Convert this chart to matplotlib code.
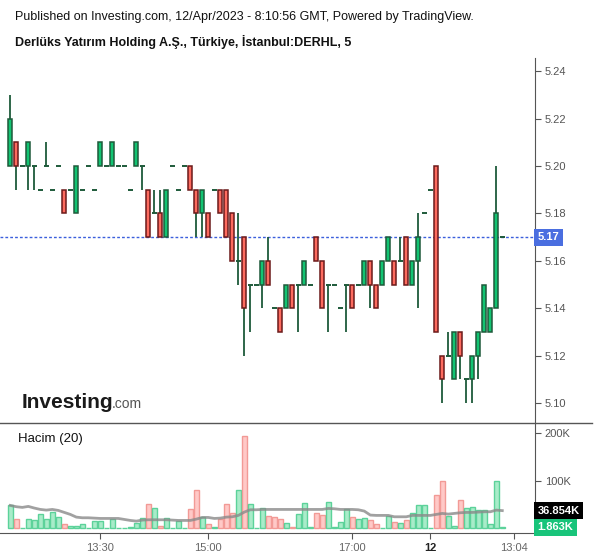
import matplotlib
matplotlib.use('Agg')
import matplotlib.pyplot as plt
from matplotlib.lines import Line2D
from matplotlib.transforms import blended_transform_factory
import numpy as np

plt.rcParams['font.family'] = ['Liberation Sans', 'DejaVu Sans']

# 5 minute candles, DERHL
opens = [5.20, 5.21, 5.20, 5.20, 5.20, 5.19, 5.20, 5.19, 5.20, 5.19,
         5.19, 5.18, 5.19, 5.20, 5.19, 5.20, 5.20, 5.20, 5.20, 5.20,
         5.19, 5.20, 5.20, 5.19, 5.18, 5.18, 5.17, 5.20, 5.19, 5.20,
         5.20, 5.19, 5.18, 5.18, 5.19, 5.19, 5.19, 5.18, 5.16, 5.17,
         5.15, 5.15, 5.15, 5.16, 5.14, 5.14, 5.14, 5.15, 5.15, 5.15,
         5.15, 5.17, 5.16, 5.15, 5.15, 5.14, 5.15, 5.15, 5.15, 5.15,
         5.16, 5.15, 5.15, 5.16, 5.16, 5.16, 5.17, 5.15, 5.16, 5.18,
         5.19, 5.20, 5.12, 5.12, 5.11, 5.13, 5.11, 5.11, 5.12, 5.13,
         5.13, 5.14, 5.17]
highs = [5.23, 5.21, 5.20, 5.21, 5.20, 5.19, 5.21, 5.19, 5.20, 5.19,
         5.19, 5.20, 5.19, 5.20, 5.19, 5.21, 5.20, 5.21, 5.20, 5.20,
         5.19, 5.21, 5.20, 5.19, 5.19, 5.19, 5.19, 5.20, 5.19, 5.20,
         5.20, 5.19, 5.19, 5.18, 5.19, 5.19, 5.19, 5.18, 5.18, 5.17,
         5.15, 5.15, 5.16, 5.17, 5.14, 5.14, 5.15, 5.15, 5.15, 5.16,
         5.15, 5.17, 5.16, 5.15, 5.15, 5.14, 5.15, 5.15, 5.15, 5.16,
         5.16, 5.15, 5.16, 5.17, 5.16, 5.17, 5.17, 5.16, 5.18, 5.18,
         5.19, 5.20, 5.12, 5.13, 5.13, 5.13, 5.11, 5.12, 5.13, 5.15,
         5.14, 5.20, 5.17]
lows = [5.20, 5.19, 5.20, 5.19, 5.19, 5.19, 5.20, 5.19, 5.20, 5.18,
        5.19, 5.18, 5.19, 5.20, 5.19, 5.20, 5.20, 5.20, 5.20, 5.20,
        5.19, 5.20, 5.19, 5.17, 5.18, 5.17, 5.17, 5.20, 5.19, 5.20,
        5.19, 5.17, 5.17, 5.17, 5.19, 5.18, 5.17, 5.16, 5.15, 5.12,
        5.13, 5.15, 5.14, 5.15, 5.14, 5.13, 5.14, 5.14, 5.13, 5.15,
        5.15, 5.16, 5.14, 5.13, 5.15, 5.14, 5.13, 5.14, 5.15, 5.15,
        5.14, 5.14, 5.15, 5.16, 5.15, 5.16, 5.15, 5.15, 5.14, 5.18,
        5.19, 5.13, 5.10, 5.12, 5.11, 5.11, 5.10, 5.10, 5.11, 5.13,
        5.13, 5.14, 5.17]
closes = [5.22, 5.20, 5.20, 5.21, 5.20, 5.19, 5.20, 5.19, 5.20, 5.18,
          5.19, 5.20, 5.19, 5.20, 5.19, 5.21, 5.20, 5.21, 5.20, 5.20,
          5.19, 5.21, 5.20, 5.17, 5.18, 5.17, 5.19, 5.20, 5.19, 5.20,
          5.19, 5.18, 5.19, 5.17, 5.19, 5.18, 5.17, 5.16, 5.16, 5.14,
          5.15, 5.15, 5.16, 5.15, 5.14, 5.13, 5.15, 5.14, 5.15, 5.16,
          5.15, 5.16, 5.14, 5.15, 5.15, 5.14, 5.15, 5.14, 5.15, 5.16,
          5.15, 5.14, 5.16, 5.17, 5.15, 5.16, 5.15, 5.16, 5.17, 5.18,
          5.19, 5.13, 5.11, 5.12, 5.13, 5.12, 5.11, 5.12, 5.13, 5.15,
          5.14, 5.18, 5.17]

# volume in thousands, bar colour (g/r), and the 20-period average line
volume = [49, 20, 1, 20, 18, 30, 20, 35, 24, 9,
          4, 4, 9, 1, 15, 15, 1, 20, 1, 1,
          3, 10, 22, 51, 43, 5, 22, 1, 15, 1,
          41, 81, 24, 9, 3, 20, 51, 32, 81, 195,
          51, 1, 43, 26, 24, 20, 11, 3, 30, 54,
          3, 32, 28, 56, 3, 13, 41, 24, 20, 22,
          18, 9, 1, 26, 13, 11, 18, 32, 49, 49,
          0.5, 70, 100, 26, 5, 60, 43, 45, 39, 39,
          9, 100, 1.863]
vol_dir = ("grgggggggr" "gggggggggg" "gggrgrgggg" "rrgrgrrrgr" "gggrrrgrgg"
           "grrggggrgg" "rrggrgrggg" "grrggrgggg" "ggg")
vol_ma = [47.9, 45.1, 43.7, 45.8, 42.3, 39.4, 38.0, 39.4, 37.3, 33.1,
          28.9, 23.2, 21.8, 21.8, 21.1, 20.4, 20.4, 20.4, 20.4, 18.3,
          16.2, 14.8, 16.9, 17.6, 17.6, 17.6, 17.6, 16.9, 16.2, 16.2,
          16.2, 19.0, 22.5, 22.5, 20.4, 21.1, 23.2, 23.9, 26.8, 33.8,
          38.7, 38.7, 39.4, 39.4, 39.4, 39.4, 39.4, 39.4, 39.4, 39.4,
          39.4, 39.4, 39.4, 41.5, 40.8, 39.4, 39.4, 39.4, 38.7, 35.9,
          27.5, 26.8, 26.8, 26.8, 23.9, 23.9, 23.9, 26.8, 26.8, 26.8,
          26.8, 28.9, 31.0, 29.6, 31.0, 32.4, 33.1, 33.1, 33.8, 34.5,
          34.5, 38.0, 36.9]

tick_pos = [15, 33, 57, 70, 84]
tick_labels = ['13:30', '15:00', '17:00', '12', '13:04']
last_price = 5.17
ma_last = 36.854
vol_last = 1.863

W, H = 600, 558
fig = plt.figure(figsize=(6, 5.58), dpi=100)


def px_rect(x0, y0, x1, y1):
    return [x0 / W, 1 - y1 / H, (x1 - x0) / W, (y1 - y0) / H]


ax = fig.add_axes(px_rect(0, 58, 535, 423))
vax = fig.add_axes(px_rect(0, 423, 535, 533), sharex=ax)

GREEN = '#12c472'
DGREEN = '#1e5a3a'
RED = '#fd6b5f'
DRED = '#6b1a1a'
AXC = '#555555'

o = np.array(opens)
h = np.array(highs)
l = np.array(lows)
c = np.array(closes)
x = np.arange(len(o))

up = c > o
dn = c < o
flat = c == o

ax.vlines(x[h > l], l[h > l], h[h > l], color=DGREEN, lw=1.3, zorder=2)
ax.bar(x[up], (c - o)[up], bottom=o[up], width=0.65, color=GREEN,
       edgecolor=DGREEN, lw=1.1, zorder=3)
ax.bar(x[dn], (o - c)[dn], bottom=c[dn], width=0.65, color=RED,
       edgecolor=DRED, lw=1.1, zorder=3)
ax.hlines(o[flat], x[flat] - 0.42, x[flat] + 0.42, color=DGREEN, lw=1.4, zorder=3)

ax.axhline(last_price, color='#3b5fdc', lw=1, ls=(0, (2, 1.5)), zorder=1)

ax.set_xlim(-1.72, 87.45)
ax.set_ylim(5.0916, 5.2456)
ax.yaxis.tick_right()
yt = np.arange(5.10, 5.2401, 0.02)
ax.set_yticks(yt)
ax.set_yticklabels(['%.2f' % v for v in yt])
ax.tick_params(axis='y', length=4, color=AXC, labelcolor=AXC, labelsize=8, pad=3)
ax.tick_params(axis='x', bottom=False, labelbottom=False)
for s in ['left', 'top', 'bottom']:
    ax.spines[s].set_visible(False)
ax.spines['right'].set_color(AXC)

tr = blended_transform_factory(ax.transAxes, ax.transData)
ax.text(1.005, last_price, '5.17', transform=tr, ha='left', va='center',
        color='white', fontsize=8, weight='bold', clip_on=False,
        bbox=dict(boxstyle='square,pad=0.3', fc='#4a6ee0', ec='none'))

# volume pane
vcol = ['#a8ecc9' if d == 'g' else '#ffc9c7' for d in vol_dir]
vedge = ['#5cd29a' if d == 'g' else '#f29a96' for d in vol_dir]
vax.bar(x, volume, width=0.85, color=vcol, edgecolor=vedge, lw=1, zorder=2)
vax.plot(x, vol_ma, color='#8a8a8a', lw=2, alpha=0.8, zorder=3)
vax.set_ylim(-10.3, 221.7)
vax.yaxis.tick_right()
vax.set_yticks([100, 200])
vax.set_yticklabels(['100K', '200K'])
vax.tick_params(axis='y', length=4, color=AXC, labelcolor=AXC, labelsize=8, pad=3)
vax.set_xticks(tick_pos)
vax.set_xticklabels(tick_labels)
vax.tick_params(axis='x', length=4, color=AXC, labelcolor='#666666', labelsize=8, pad=3)
for lab in vax.get_xticklabels():
    if lab.get_text() == '12':
        lab.set_fontweight('bold')
        lab.set_color('#222222')
vax.spines['left'].set_visible(False)
vax.spines['top'].set_visible(False)
vax.spines['right'].set_color(AXC)
vax.spines['bottom'].set_color(AXC)

vtr = blended_transform_factory(vax.transAxes, vax.transData)
vax.text(1.005, ma_last, '36.854K', transform=vtr, ha='left', va='center',
         color='white', fontsize=8, weight='bold', clip_on=False,
         bbox=dict(boxstyle='square,pad=0.3', fc='black', ec='none'))
vax.text(1.005, vol_last, '1.863K', transform=vtr, ha='left', va='center',
         color='white', fontsize=8, weight='bold', clip_on=False,
         bbox=dict(boxstyle='square,pad=0.3', fc='#18c47a', ec='none'))

# separator between panes
fig.add_artist(Line2D([0, 592 / W], [1 - 423 / H] * 2, transform=fig.transFigure,
                      color=AXC, lw=1))

fig.text(15 / W, 1 - 17 / H,
         'Published on Investing.com, 12/Apr/2023 - 8:10:56 GMT, Powered by TradingView.',
         fontsize=9, va='center', color='#111111')
fig.text(15 / W, 1 - 42 / H,
         'Derlüks Yatırım Holding A.Ş., Türkiye, İstanbul:DERHL, 5',
         fontsize=9, weight='bold', va='center', color='#111111')
fig.text(22 / W, 1 - 408 / H, 'Investing', fontsize=15, weight='bold',
         va='baseline', color='#1a1a1a')
fig.text(112 / W, 1 - 408 / H, '.com', fontsize=10, va='baseline', color='#555555')
fig.text(18 / W, 1 - 439 / H, 'Hacim (20)', fontsize=9.5, va='center', color='#111111')

fig.savefig('out.png', dpi=100, facecolor='white')
